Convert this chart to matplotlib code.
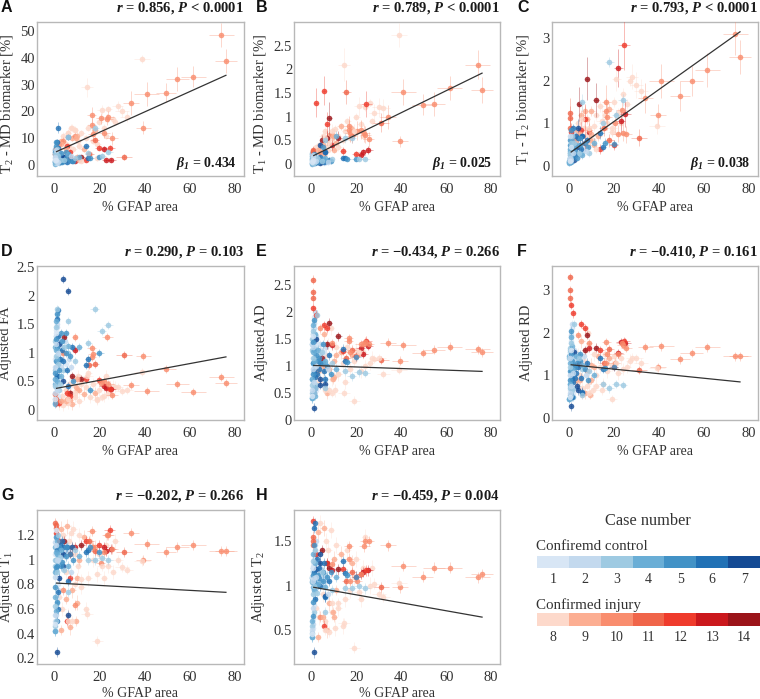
import numpy as np
import matplotlib
matplotlib.use('Agg')
import matplotlib.pyplot as plt
from matplotlib.colors import ListedColormap, to_rgba

# --------------------------------------------------
# Case colours (legend)
# --------------------------------------------------
case_colors = {1: '#d8e6f5', 2: '#c3d9ee', 3: '#9ecae2', 4: '#6aaed6', 5: '#4292c6',
               6: '#2171b5', 7: '#144a94', 8: '#fdd9cb', 9: '#fcae92', 10: '#f98d6e',
               11: '#f0654a', 12: '#ef3b2c', 13: '#cb181d', 14: '#9b1419'}
control_cases = [1, 2, 3, 4, 5, 6, 7]
injury_cases = [8, 9, 10, 11, 12, 13, 14]

# --------------------------------------------------
# Samples with a readable position (same samples in every panel)
# --------------------------------------------------
wide_x = [76, 74, 61.5, 54.5, 49.5, 41, 39.5, 39, 34, 31,
          32, 30, 28, 25.5, 25, 24.5, 24, 23.5, 23, 22,
          22, 21, 20.5, 20, 24, 21, 18, 15, 14.5, 19,
          16.5, 16.5, 17, 15.5, 18, 14, 16, 20, 15, 14,
          12, 8, .5, .7, .6, .8, 2, 5.5, 7, 7,
          4.5, 9, 4, 9, 10, 8, 9, 6, 9.5, 3,
          5, 11, 12, 6, 4, 6, 1, 1.5, 1, 6,
          11, 5]
wide_xerr = [5, 5.5, 5.5, 5, 4.5, 5.5, 3.5, 3.5, 3.5, 3.5,
             3, 3, 2.5, 2.5, 2.5, 2.5, 2.5, 2.5, 2, 2.5,
             2, 2, 2, 2, 2, 2, 2, 1.5, 2.5, 2.5,
             2, 2, 2, 2, 2, 1.5, 1.5, 2, 1.5, 1.5,
             1.5, 1, .5, .5, .5, .6, .8, 1, 1, 1,
             .8, 1, .8, 1.2, 1.2, 1.2, 1.2, 1, 1.2, .8,
             1, 1.2, 1.5, .8, .8, .8, .5, .5, .5, 1,
             1.2, .8]
wide_case = [10, 10, 10, 10, 10, 10, 10, 8, 10, 11,
             8, 8, 8, 10, 13, 12, 10, 10, 13, 10,
             13, 8, 10, 12, 3, 3, 3, 3, 8, 8,
             10, 10, 10, 11, 11, 12, 5, 5, 6, 6,
             14, 14, 11, 11, 11, 12, 12, 12, 12, 14,
             14, 13, 10, 10, 9, 8, 8, 8, 9, 9,
             9, 9, 8, 6, 7, 7, 7, 6, 6, 3,
             4, 5]

wide_a = [39, 48.5, 33, 32, 27, 26.5, 14, 39.5, 23, 3,
          18, 20, 22, 10, 2, 6.5, 18, 17, 1.8, 12,
          6, 20.5, 17.5, 6.5, 5, 3.5, 14, 4.5, 29, 2.5,
          18.5, 15, 11.5, 4, 9.5, 2, 2.5, 3, 2.5, 7,
          3, 2, 4, 5, 6, 3, 8, 7, 5, 3,
          2, 1.5, 9, 11, 11, 14, 13, 12, 10, 8,
          6, 2, 1.5, 10.5, 3, 4, 2, 14, 8.5, 10.5,
          3, 5]
wide_b = [1.56, 2.1, 1.6, 1.27, 1.25, 1.52, .48, 2.72, 1, .87,
          1.18, 1.2, 1.07, .52, .3, 1.27, .62, .65, .25, .72,
          .2, 1.22, .7, .22, .1, .1, .55, .55, 2.1, .7,
          .8, .72, .65, 1.52, .6, .28, .1, .1, .12, .13,
          .55, .97, .3, .28, .25, .2, 1.3, 1.55, .85, .55,
          .5, .4, .25, .62, .6, .45, .7, .55, .6, .3,
          .4, .45, .35, .25, .4, .25, .1, .1, .15, .5,
          .6, .35]
wide_c = [2.56, 3.1, 2.25, 2, 1.65, 2, 1.2, .95, 1.6, .67,
          1.75, 1.9, 2.1, .75, 1.22, 2.85, .78, 1.32, 1.05, .76,
          2.3, 2.05, 1, .5, 1.55, 1.2, 2.45, 1, 1.05, .9,
          1.5, 1.3, 1.15, .9, .6, .4, .55, .52, .45, .78,
          1.55, 2.05, 1.25, 1.12, .9, .8, .6, .85, 1.1, .55,
          1.45, .8, .7, .85, .75, .55, .9, 1.1, .6, .6,
          .75, .5, .4, .7, .9, .7, .25, .2, .3, 1.5,
          .55, .65]
wide_d = [.48, .57, .32, .46, .72, .33, .95, .66, .43, .97,
          .35, .33, .4, .27, .37, .37, .45, 1.27, .38, .5,
          .42, .22, .48, .52, 1.48, 1.38, 1.77, 1.18, .6, .18,
          1.08, .92, .98, .78, .8, .55, .35, 1, .9, .78,
          .55, .6, .28, .2, .15, .13, .12, .3, .25, .3,
          1.28, 1.05, 1, 1.28, .55, .45, .3, .2, .4, .15,
          .15, .35, .45, .42, 2.3, 2.08, .6, 1.75, 1.6, 1.55,
          1.1, 1.35]
wide_e = [1.25, 1.31, 1.36, 1.3, 1.24, 1.38, 1.1, .93, 1.43, 1.11,
          .85, 1.15, 1.13, 1.4, 1.37, 1.47, 1.45, 1.4, 1.22, 1.4,
          1.33, 1.25, 1.2, 1.18, .87, .88, .81, .9, .5, .36,
          1.52, 1.46, 1.25, 1.15, 1.3, 1.28, 1.07, 1.17, 1.1, 1.32,
          1.55, 1.8, 2.6, 2.37, 2.25, 2.08, 1.95, 1.75, 1.7, 1.4,
          1.15, 1.38, 1.7, 1.42, .8, .55, .5, .55, .75, .9,
          1, 1.2, .85, .75, .65, .66, .23, .6, .5, .6,
          .95, 1.05]
wide_f = [1.45, 1.45, 1.66, 1.53, 1.38, 1.68, 1.19, 1.18, 1.66, 1.13,
          1.3, 1.4, 1.42, 1.65, 1.77, 1.8, 1.72, 1.75, 1.78, 1.5,
          1.52, 1.3, 1.3, 1.2, .78, .8, .7, .8, .65, .45,
          1.78, 1.3, 1.5, 1.3, 1.62, 1.6, 1.18, 1.2, 1.15, 1.4,
          1.65, 1.95, 3.3, 3, 2.8, 2.65, 2.45, 2.2, 2.1, 1.6,
          1.28, 1.65, 1.95, 1.75, .9, .75, .6, .55, .55, .9,
          .9, 1.2, .75, .62, .65, .6, .28, .5, .55, .55,
          1, 1.35]
wide_g = [1.07, 1.07, 1.12, 1.1, 1.06, 1.13, 1, .99, 1.22, 1.06,
          .92, .94, 1, 1.09, 1.09, 1.24, 1.2, 1.2, 1.07, 1.06,
          1.1, .95, .97, 1.12, 1, 1.01, 1, 1, .56, .34,
          1.23, 1.1, 1.1, 1.15, 1.07, 1.15, 1.1, 1.06, 1.08, 1.06,
          1.12, 1.1, 1.3, 1.28, 1.26, 1.22, 1.15, .5, .85, 1.05,
          1.15, 1.1, .75, .63, .85, .5, .8, .5, .5, .43,
          .68, 1, .84, .83, .95, .55, .25, .6, .5, .74,
          1.03, 1.1]
wide_h = [1.13, 1.09, 1.2, 1.2, 1.1, 1.22, .98, 1.03, 1.45, .98,
          .87, .9, 1.02, 1.5, 1.17, 1.17, 1.5, 1.44, 1.15, 1.13,
          1.13, .93, 1.05, 1.1, .97, .99, .97, .97, .58, .3,
          1.44, 1.3, 1.05, 1.05, 1.15, 1.18, 1.12, 1.1, 1.14, 1.27,
          1.18, 1.2, 1.55, 1.5, 1.45, 1.72, 1.35, .55, 1.25, 1.25,
          1.4, 1.17, .65, 1.24, .65, .48, .8, .5, .7, .42,
          .65, .95, .8, .87, 1.25, .88, .25, 1.7, 1.65, .7,
          1.1, 1.15]

wide_a_err = [4.5, 4.5, 4, 4.5, 3.5, 4.5, 2.5, 1.5, 4.5, 1,
              2, 2, 2, 2.5, .8, 1, 2, 2, .7, 2,
              1, 2, 2, 1, 1, 1, 1.5, 1, 3.5, 1,
              3, 2.5, 2, 1, 1, .7, .5, .7, .5, .8,
              .8, .6, 1, 1, 1, .8, 1, 1, .8, .8,
              .5, .5, 1.5, 1.5, 1.5, 1.5, 1.5, 1.5, 1.5, 1,
              1, .6, .5, 1.2, .6, .6, .4, 2, 1.2, 1.2,
              .6, .8]
wide_b_err = [.28, .3, .25, .25, .22, .28, .12, .25, .25, .2,
              .2, .2, .2, .15, .08, .28, .18, .18, .06, .2,
              .05, .2, .2, .06, .04, .04, .1, .1, .35, .15,
              .22, .2, .18, .25, .15, .08, .03, .03, .03, .04,
              .15, .35, .08, .08, .08, .06, .3, .3, .25, .15,
              .12, .1, .08, .15, .15, .12, .15, .15, .15, .08,
              .1, .1, .08, .06, .08, .06, .03, .03, .04, .1,
              .1, .08]
wide_c_err = [.4, .5, .4, .35, .35, .4, .25, .2, .35, .2,
              .3, .3, .3, .2, .3, .6, .2, .3, .3, .2,
              .45, .3, .25, .12, .15, .12, .12, .12, .3, .2,
              .4, .3, .3, .2, .15, .12, .1, .1, .1, .15,
              .4, .5, .35, .3, .25, .2, .2, .25, .35, .2,
              .4, .2, .2, .25, .2, .15, .25, .3, .2, .15,
              .2, .15, .1, .15, .2, .15, .05, .05, .06, .2,
              .12, .15]

# --------------------------------------------------
# Dense clump of low-GFAP samples (estimated)
# --------------------------------------------------
clump_x = [.2, .3, .3, .4, .4, .5, .5, .6, .6, .7,
           .7, .8, .8, .9, .9, 1, 1, 1.1, 1.2, 1.2,
           1.3, 1.4, 1.5, 1.6, 1.8, 2, 2.2, 2.4, 2.6, 2.8,
           3, 3.2, 3.5, 3.8, 4, 4.5, 5, 5.5, 6, 7,
           7.5, 8, 8.5, 9]
clump_case = [4, 1, 2, 3, 4, 5, 2, 5, 3, 4,
              2, 5, 1, 3, 4, 5, 3, 2, 6, 4,
              5, 4, 3, 6, 2, 5, 7, 3, 6, 5,
              4, 6, 5, 7, 6, 3, 5, 6, 4, 5,
              2, 6, 5, 3]
clump_a = [1, 2, 3, 4, 1.5, 5, 2.5, 8.5, 1, 3.5,
           5.5, 7, 2, 4.5, 1.5, 3, 6, 1, 2.5, 4,
           2, 1.5, 3.5, 6.5, 1, 1.5, 3, 2, 1, 4.5,
           2, 1.5, 1, 3, 1.5, 2, 2.5, 1, 4, 2,
           3.5, 1.5, 1.5, 2.5]
clump_b = [.02, .04, .06, .08, .1, .12, .14, .16, .02, .18,
           .2, .05, .08, .12, .15, .22, .03, .06, .1, .14,
           .05, .09, .12, .03, .07, .1, .05, .13, .08, .04,
           .11, .06, .09, .03, .14, .06, .1, .05, .13, .07,
           .04, .09, .06, .1]
clump_c = [.08, .12, .2, .3, .4, .5, .15, .6, .25, .35,
           .7, .1, .45, .55, .2, .85, .3, .15, .4, .6,
           .25, .5, .7, .9, .3, .45, .15, .55, .25, .35,
           .5, .7, .2, .45, .65, .3, .5, .4, .25, .55,
           .35, .6, .45, .3]
clump_d = [.12, .2, .3, .42, .55, .65, .75, .85, .95, 1.05,
           1.15, 1.25, 1.35, 1.45, 1.55, 1.68, 1.77, .35, .6, .9,
           1.1, .5, .8, 1.3, 1, .7, 1.15, .45, .9, 1.35,
           .6, 1.05, 1.2, .5, .85, 1.1, 1, .7, 1.12, .95,
           .75, 1.1, .5, .85]
clump_e = [.4, .45, .55, .65, .75, .85, .95, 1.05, 1.15, 1.25,
           1.35, 1.45, 1.55, 1.65, 1.75, 1.85, .5, .7, .9, 1.1,
           1.3, 1.6, .6, .8, 1, 1.2, 1.5, 1.95, .85, 1.1,
           1.3, .95, 1.15, .75, 1.05, 1.25, 1.4, .9, 1.1, 1,
           .95, 1.2, .85, 1.05]
clump_f = [.45, .5, .6, .7, .8, .9, 1, 1.1, 1.2, 1.3,
           1.4, 1.5, 1.6, 1.75, 1.9, 2.05, .55, .75, .95, 1.15,
           1.35, 1.7, .65, .85, 1.05, 1.25, 1.55, 2.2, .95, 1.2,
           1.45, 1.05, 1.3, .75, 1.2, 1.4, 1.5, .95, 1.25, 1.15,
           1, 1.3, .9, 1.1]
clump_g = [.42, .48, .55, .62, .7, .78, .86, .94, 1, 1.06,
           1.12, 1.18, 1.24, .5, .58, .66, .9, 1, 1.08, 1.15,
           .95, 1.05, 1.2, .74, 1, 1.1, .85, 1.02, 1.12, .95,
           1.08, 1.15, .98, 1.05, 1.1, .92, 1.03, 1.1, .95, 1.05,
           .9, 1.1, 1, 1.08]
clump_h = [.42, .46, .5, .55, .6, .66, .75, .82, .9, .98,
           1.05, 1.12, 1.2, 1.28, 1.35, 1.45, 1, 1.08, 1.15, .95,
           1.05, 1.25, 1.4, .85, 1.1, 1.02, 1.18, .92, 1.3, 1.12,
           1.02, 1.2, 1.08, 1.35, 1, 1.15, 1.05, 1.25, .98, 1.1,
           .9, 1.05, 1.15, .95]

# pale vertical strip hugging x = 0 (estimated)
strip_x = [.1, .3, .5, .7, .9, 1.1, 1.3, 1.5, 1.7, 1.9,
           .2, .4, .6, .8, 1, 1.2, 1.4, 1.6, 1.8, 2,
           .3, .5, .7, .9, 1.1, 1.3, 1.5, 1.7, 2.2, 2.4,
           .2, .4, .6, .8, 1, 1.2, 1.6, 2, 2.6, 3,
           3.2, 3.6, 4, 4.4, 4.8, 5.4, 6, 6.6]
strip_case = [4, 3, 1, 2, 1, 3, 1, 2, 1, 2,
              4, 3, 3, 1, 2, 1, 2, 4, 1, 3,
              4, 2, 1, 4, 2, 1, 3, 1, 2, 1,
              3, 1, 3, 1, 2, 1, 2, 3, 1, 2,
              1, 2, 3, 1, 2, 1, 3, 2]
strip_a = [.5, 1, 1.5, 2, 2.5, 3, 3.5, 4, 4.5, 5,
           5.5, 6, 6.5, .8, 1.2, 1.8, 2.2, 2.8, 3.2, 3.8,
           4.2, 4.8, 5.2, .6, 1.4, 2.4, 3, 3.4, 4, 4.6,
           1, 1.6, 2, 2.6, 3.6, 4.4, 5, .8, 1.5, 2.5,
           1, 2, 3, 1.5, 2.5, 1, 2, 1.5]
strip_b = [.01, .03, .05, .07, .09, .11, .13, .15, .17, .19,
           .21, .23, .25, .02, .04, .06, .08, .1, .12, .14,
           .16, .18, .2, .03, .07, .11, .15, .19, .05, .09,
           .13, .17, .02, .06, .1, .14, .18, .04, .08, .12,
           .06, .1, .04, .13, .07, .03, .09, .05]
strip_c = [.1, .15, .25, .2, .35, .3, .5, .4, .6, .5,
           .12, .2, .3, .4, .45, .55, .25, .65, .35, .7,
           .18, .3, .4, .15, .5, .2, .6, .3, .75, .45,
           .1, .25, .18, .3, .2, .4, .5, .25, .65, .5,
           .35, .6, .3, .55, .25, .45, .3, .4]
strip_d = [.1, .2, .3, .4, .5, .6, .7, .8, .9, 1,
           1.1, 1.2, 1.3, 1.4, 1.5, 1.6, 1.7, .15, .25, .35,
           .45, .55, .65, .75, .85, .95, 1.05, 1.15, 1.25, .5,
           .7, .9, 1.1, 1.3, 1.45, 1.55, .6, .85, 1, .75,
           .9, 1.1, .7, 1, 1.2, .8, 1, .9]
strip_e = [.4, .5, .6, .7, .8, .9, 1, 1.1, 1.2, 1.3,
           1.4, 1.5, 1.6, 1.7, 1.8, 1.9, 2, .45, .55, .65,
           .75, .85, .95, 1.05, 1.15, 1.25, 1.35, 1.45, 1.55, 1.2,
           1.3, 1.4, 1.5, 1.6, 1.7, .9, 1, 1.2, 1.4, 1.3,
           1.1, 1.4, 1.2, 1.3, 1.15, 1.25, 1.05, 1.35]
strip_f = [.45, .55, .65, .75, .85, .95, 1.05, 1.15, 1.25, 1.35,
           1.45, 1.55, 1.65, 1.8, 1.95, 2.1, 2.2, .5, .6, .7,
           .8, .9, 1, 1.1, 1.2, 1.3, 1.4, 1.5, 1.6, 1.3,
           1.4, 1.5, 1.6, 1.75, 1.9, 1, 1.1, 1.3, 1.5, 1.4,
           1.2, 1.5, 1.3, 1.4, 1.25, 1.35, 1.15, 1.45]
strip_g = [.42, .46, .5, .55, .6, .65, .7, .75, .8, .85,
           .9, .95, 1, 1.05, 1.1, 1.15, 1.2, .98, 1.02, 1.06,
           1.1, 1.14, 1.18, .92, .96, 1, 1.04, 1.08, 1.12, 1.16,
           1, 1.05, 1.1, 1.15, 1.2, .95, 1, 1.08, 1.12, 1.04,
           1.1, 1.15, 1.05, 1.12, 1.08, 1.02, 1.1, 1.06]
strip_h = [.42, .47, .52, .57, .62, .7, .78, .85, .92, .98,
           1.04, 1.1, 1.16, 1.22, 1.28, 1.36, 1.45, .96, 1, 1.04,
           1.08, 1.12, 1.16, 1.2, 1.24, 1.3, 1.34, 1.4, 1.5, 1,
           1.05, 1.1, 1.15, 1.2, 1.25, .95, 1, 1.08, 1.14, 1.05,
           1.1, 1.2, 1.05, 1.15, 1.1, 1.02, 1.12, 1.06]

# pale red samples spread over low GFAP values (estimated)
pale_x = [2, 3, 3.5, 4, 5, 5.5, 6, 6.5, 7, 7.5,
          8, 8.5, 9, 10, 10.5, 11, 12, 13, 14, 15,
          16, 17, 18, 19, 20, 22, 23, 24, 26, 27]
pale_case = [8, 9, 8, 8, 8, 9, 8, 8, 9, 8,
             9, 8, 8, 9, 8, 8, 8, 9, 8, 8,
             8, 8, 9, 8, 8, 8, 8, 8, 8, 8]
pale_a = [6, 9, 4, 11, 8, 5, 12, 7, 3, 14,
          10, 6, 13, 3, 9, 7, 12, 6, 10, 14,
          4, 9, 13, 8, 16, 14, 11, 21, 17, 16]
pale_b = [.35, .2, .4, .3, .6, .2, .7, .35, .5, .3,
          .62, .4, .55, .3, .75, .45, .6, .8, .5, .7,
          .9, .55, .75, .65, 1, .85, .6, 1.2, 1.3, .9]
pale_c = [.6, .8, .4, 1, .7, 1.2, .5, .9, 1.3, .7,
          1.1, .5, .85, 1.3, .6, .95, 1.2, .7, 1.4, .9,
          1.2, 1, 1.35, .8, 1.5, 1.25, 1, 1.7, 1.45, 2]
pale_d = [.1, .15, .25, .08, .35, .2, .12, .45, .18, .3,
          .1, .55, .22, .35, .6, .15, .5, .28, .4, .65,
          .22, .45, .3, .2, .35, .25, .6, .3, .42, .4]
pale_e = [.8, 1.1, .7, 1.3, .9, 1.6, .6, 1.2, .5, 1.4,
          .95, 1.7, .75, 1.1, .55, 1.35, .85, 1.25, 1.05, .7,
          1.35, .95, 1.2, 1.1, 1.3, .9, 1.25, 1, 1.05, 1.15]
pale_f = [.9, 1.2, .8, 1.5, 1, 1.8, .7, 1.35, .6, 1.6,
          1.1, 2, .85, 1.25, .65, 1.5, 1, 1.45, 1.2, .8,
          1.5, 1.1, 1.4, 1.25, 1.45, 1.05, 1.4, 1.15, 1.2, 1.35]
pale_g = [.7, 1.25, .6, 1.2, .9, 1.27, .55, 1.15, .45, 1.22,
          .75, 1.25, 1.05, .65, .95, 1.2, .78, 1.18, .6, .85,
          1.15, 1, 1.1, .88, 1.05, .85, 1.12, .95, .9, 1.15]
pale_h = [.75, 1.6, .65, 1.7, .9, 1.65, .6, 1.5, .5, 1.4,
          .8, 1.62, .7, 1.3, .52, 1.45, .75, 1.35, .55, .85,
          1.4, .95, 1.25, 1.1, 1.3, .85, 1.2, 1.55, 1, 1.2]

# --------------------------------------------------
# Regression lines, labels, ticks
# --------------------------------------------------
line_x = [1, 76]
line_a = [5, 33.5]
line_b = [.18, 1.92]
line_c = [.33, 3.15]
line_d = [.38, .93]
line_e = [1.01, .9]
line_f = [1.25, .85]
line_g = [.81, .735]
line_h = [.98, .645]

titles = [r'$\mathbfit{r}$ = 0.856, $\mathbfit{P}$ < 0.0001',
          r'$\mathbfit{r}$ = 0.789, $\mathbfit{P}$ < 0.0001',
          r'$\mathbfit{r}$ = 0.793, $\mathbfit{P}$ < 0.0001',
          r'$\mathbfit{r}$ = 0.290, $\mathbfit{P}$ = 0.103',
          r'$\mathbfit{r}$ = −0.434, $\mathbfit{P}$ = 0.266',
          r'$\mathbfit{r}$ = −0.410, $\mathbfit{P}$ = 0.161',
          r'$\mathbfit{r}$ = −0.202, $\mathbfit{P}$ = 0.266',
          r'$\mathbfit{r}$ = −0.459, $\mathbfit{P}$ = 0.004']
ylabels = [r'T$_2$ - MD biomarker [%]', r'T$_1$ - MD biomarker [%]', r'T$_1$ - T$_2$ biomarker [%]',
           'Adjusted FA', 'Adjusted AD', 'Adjusted RD', r'Adjusted T$_1$', r'Adjusted T$_2$']
betas = ['0.434', '0.025', '0.038', None, None, None, None, None]
letters = ['A', 'B', 'C', 'D', 'E', 'F', 'G', 'H']
x_ticks = [0, 20, 40, 60, 80]
y_ticks = [[0, 10, 20, 30, 40, 50],
           [0, .5, 1, 1.5, 2, 2.5],
           [0, 1, 2, 3],
           [0, .5, 1, 1.5, 2, 2.5],
           [0, .5, 1, 1.5, 2, 2.5],
           [0, 1, 2, 3],
           [.2, .4, .6, .8, 1, 1.2],
           [.5, 1, 1.5]]
y_ticklabels = [['0', '10', '20', '30', '40', '50'],
                ['0', '0.5', '1', '1.5', '2', '2.5'],
                ['0', '1', '2', '3'],
                ['0', '0.5', '1', '1.5', '2', '2.5'],
                ['0', '0.5', '1', '1.5', '2', '2.5'],
                ['0', '1', '2', '3'],
                ['0.2', '0.4', '0.6', '0.8', '1', '1.2'],
                ['0.5', '1', '1.5']]
y_limits = [(-4.1, 53.4), (-.252, 3.0), (-.233, 3.38), (-.175, 2.527),
            (0, 2.857), (-.04, 3.565), (.151, 1.403), (.115, 1.848)]

panel_wide = [wide_a, wide_b, wide_c, wide_d, wide_e, wide_f, wide_g, wide_h]
panel_clump = [clump_a, clump_b, clump_c, clump_d, clump_e, clump_f, clump_g, clump_h]
panel_strip = [strip_a, strip_b, strip_c, strip_d, strip_e, strip_f, strip_g, strip_h]
panel_pale = [pale_a, pale_b, pale_c, pale_d, pale_e, pale_f, pale_g, pale_h]
panel_lines = [line_a, line_b, line_c, line_d, line_e, line_f, line_g, line_h]
panel_wide_err = [wide_a_err, wide_b_err, wide_c_err, .07, .08, .1, .04, .06]
panel_clump_err = [.8, .05, .08, .07, .08, .1, .04, .06]

# --------------------------------------------------
# Plot settings
# --------------------------------------------------
plt.rcParams.update({
    'font.family': 'Liberation Serif',
    'font.size': 10,
    'mathtext.fontset': 'custom',
    'mathtext.rm': 'Liberation Serif',
    'mathtext.it': 'Liberation Serif:italic',
    'mathtext.bf': 'Liberation Serif:bold',
    'mathtext.bfit': 'Liberation Serif:italic:bold',
    'mathtext.default': 'regular',
})
text_col = '#333333'
W, H = 760, 699
fig = plt.figure(figsize=(W / 100, H / 100), dpi=100)


def px_axes(left, top, right, bottom):
    return fig.add_axes([left / W, 1 - bottom / H, (right - left) / W, (bottom - top) / H])


def draw_group(ax, xs, xe, ys, ye, cases, order, base_z):
    # one errorbar call per case, later cases sit on top
    xs, xe, ys, ye, cases = map(np.array, (xs, xe, ys, ye, cases))
    for k, case in enumerate(order):
        m = cases == case
        if not m.any():
            continue
        col = case_colors[case]
        ax.errorbar(xs[m], ys[m], xerr=xe[m], yerr=ye[m], fmt='o', ms=4, mew=0,
                    mfc=to_rgba(col, .82), ecolor=to_rgba(col, .4),
                    elinewidth=.6, capsize=1, capthick=.4, zorder=base_z + k * .01)


# left, top, right, bottom in pixels
boxes = [(37, 22, 244, 176), (294.3, 22, 500, 176), (551.7, 22, 758, 176),
         (37, 265.7, 244, 420), (294.3, 265.7, 500, 420), (551.7, 265.7, 758, 420),
         (37, 510, 244, 664.3), (294.3, 510, 500, 664.3)]
letter_x = [1, 256, 517]
ylabel_px = [15.5, 268.5, 531, 12.5, 268, 533, 15.5, 267]
ylabel_y = [.47, .47, .5, .5, .5, .5, .5, .5]
draw_order = [14, 13, 12, 11, 10, 9, 8, 7, 6, 5, 4, 3, 2, 1]

for i, box in enumerate(boxes):
    ax = px_axes(*box)
    ye_wide = panel_wide_err[i]
    if np.isscalar(ye_wide):
        ye_wide = [ye_wide] * len(wide_x)
    clump_err = panel_clump_err[i]

    # pale spread first, then the x = 0 strip, then the darker readable marks
    draw_group(ax, pale_x, [1.5] * len(pale_x), panel_pale[i], [clump_err * 1.5] * len(pale_x),
               pale_case, draw_order, 2)
    draw_group(ax, strip_x, [.5] * len(strip_x), panel_strip[i], [clump_err] * len(strip_x),
               strip_case, draw_order, 3)
    draw_group(ax, wide_x + clump_x, wide_xerr + [.6] * len(clump_x),
               panel_wide[i] + panel_clump[i], list(ye_wide) + [clump_err] * len(clump_x),
               wide_case + clump_case, draw_order, 4)

    ax.plot(line_x, panel_lines[i], color='#333333', lw=.9, zorder=20)

    ax.set_xlim(-7.65, 84)
    ax.set_ylim(*y_limits[i])
    ax.set_xticks(x_ticks)
    ax.set_yticks(y_ticks[i])
    ax.set_yticklabels(y_ticklabels[i])
    ax.tick_params(axis='x', length=0, labelsize=10.5, labelcolor=text_col, pad=5)
    ax.tick_params(axis='y', length=0, labelsize=10.5, labelcolor=text_col, pad=1.5)
    ax.set_xlabel('% GFAP area', fontsize=10, color=text_col, labelpad=2 if i >= 6 else 3.5)
    ax.set_ylabel(ylabels[i], fontsize=10.5, color=text_col)
    ax.yaxis.set_label_coords((ylabel_px[i] - box[0]) / (box[2] - box[0]), ylabel_y[i])
    for spine in ax.spines.values():
        spine.set_color('#b8b8b8')
        spine.set_linewidth(1)

    ax.set_title(titles[i], loc='right', fontsize=10.5, fontweight='bold', color='#1a1a1a', pad=7.5)
    fig.text(letter_x[i % 3] / W, 1 - (box[1] - 14.5) / H, letters[i], family='Liberation Sans',
             fontweight='bold', fontsize=11.5, color='#111111', ha='left', va='center')

    if betas[i]:
        ax.text(.965, .08, r'$\mathbfit{β}_{\mathbfit{1}}$ = ' + betas[i], transform=ax.transAxes,
                ha='right', va='center', fontsize=10, fontweight='bold', color='#1a1a1a', zorder=30)

# --------------------------------------------------
# Colour key
# --------------------------------------------------
fig.text(648 / W, 1 - 521 / H, 'Case number', fontsize=11.8, color=text_col, ha='center', va='center')
fig.text(536 / W, 1 - 546 / H, 'Confiremd control', fontsize=10.8, color=text_col, ha='left', va='center')
fig.text(536 / W, 1 - 605 / H, 'Confirmed injury', fontsize=10.8, color=text_col, ha='left', va='center')

key_rows = [(control_cases, 555.7, 568.3), (injury_cases, 613.3, 626)]
for key_cases, top, bottom in key_rows:
    kax = px_axes(537.3, top, 760, bottom)
    cmap = ListedColormap([case_colors[c] for c in key_cases])
    kax.imshow([list(range(len(key_cases)))], cmap=cmap, aspect='auto')
    kax.set_xticks(range(len(key_cases)))
    kax.set_xticklabels([str(c) for c in key_cases])
    kax.set_yticks([])
    kax.tick_params(length=0, labelsize=10, labelcolor=text_col, pad=3.5)
    for spine in kax.spines.values():
        spine.set_visible(False)

fig.savefig('out.png', dpi=100)
